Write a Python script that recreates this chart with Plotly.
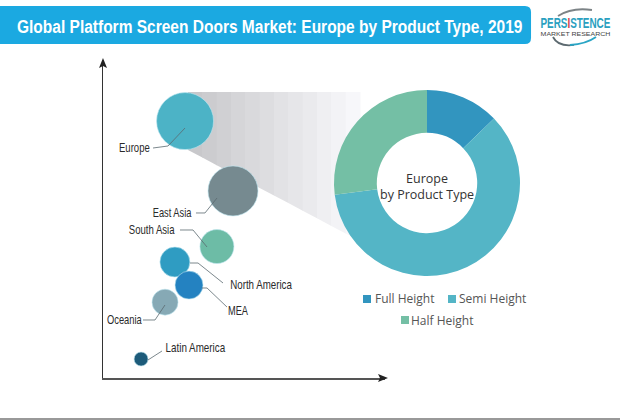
import json
import plotly.graph_objects as go

W, H = 620, 420
LABEL_FONT = "Liberation Sans, Arial, sans-serif"
SANS = "Open Sans, sans-serif"

regions = ["Europe", "East Asia", "South Asia", "North America", "MEA", "Oceania", "Latin America"]
region_x = [29.1, 46.1, 40.4, 25.5, 30.5, 22.0, 13.5]
region_y = [81.3, 59.2, 41.6, 36.7, 29.4, 24.0, 6.0]
region_size = [57, 50, 34, 30, 28, 26, 14]
region_colors = ["#4cb3c6", "#768a90", "#6dbca6", "#2f9cc2", "#2482c1", "#86a9b5", "#1d5b7a"]

product_types = ["Full Height", "Semi Height", "Half Height"]
product_share = [12.8, 60.2, 27.0]
product_colors = ["#3295bf", "#54b5c6", "#74bfa5"]

title_text = "Global Platform Screen Doors Market: Europe by Product Type, 2019"
logo_main = "PERSISTENCE"
logo_sub = "MARKET RESEARCH"


def px(x):
    return x / W


def py(y):
    return 1 - y / H


def path(points, close=False):
    s = "M " + " L ".join(f"{px(x):.4f},{py(y):.4f}" for x, y in points)
    return s + (" Z" if close else "")


def curve(a, ctrl, b):
    return (f"M {px(a[0]):.4f},{py(a[1]):.4f} Q {px(ctrl[0]):.4f},{py(ctrl[1]):.4f} "
            f"{px(b[0]):.4f},{py(b[1]):.4f}")


shapes = []


def add_shape(d, fill=None, line=None, width=0, layer="below"):
    shapes.append(dict(type="path", xref="paper", yref="paper", path=d, layer=layer,
                       fillcolor=fill or "rgba(0,0,0,0)",
                       line=dict(color=line or "rgba(0,0,0,0)", width=width)))


# header bar
r = 6
bar_top, bar_bot, bar_right = 6, 44, 531
add_shape(
    f"M 0,{py(bar_top):.4f} L {px(bar_right - r):.4f},{py(bar_top):.4f} "
    f"Q {px(bar_right):.4f},{py(bar_top):.4f} {px(bar_right):.4f},{py(bar_top + r):.4f} "
    f"L {px(bar_right):.4f},{py(bar_bot - r):.4f} "
    f"Q {px(bar_right):.4f},{py(bar_bot):.4f} {px(bar_right - r):.4f},{py(bar_bot):.4f} "
    f"L 0,{py(bar_bot):.4f} Z",
    fill="#1ba9e1",
)

# bottom rule
add_shape(path([(0, 418), (620, 418), (620, 420), (0, 420)], True), fill="#999999")

# gradient wedge from the Europe bubble to the donut
x0, x1, steps = 188, 360, 12
for i in range(steps):
    a = x0 + (x1 - x0) * i / steps
    b = x0 + (x1 - x0) * (i + 1) / steps + 0.5
    grey = int(198 + 52 * (i + 0.5) / steps)
    add_shape(path([(a, 92), (b, 92), (b, 151 + (b - 190) * 0.53), (a, 151 + (a - 190) * 0.53)], True),
              fill=f"rgb({grey},{grey},{min(255, grey + 3)})")

# axis arrow heads
add_shape(path([(103, 58), (99, 68), (103, 66), (107, 68)], True), fill="#222222", layer="above")
add_shape(path([(388, 378), (378, 374), (380, 378), (378, 382)], True), fill="#222222", layer="above")

# leader lines
leaders = [
    [(185, 128), (168, 146), (153, 148)],
    [(217, 198), (205, 213), (196, 213)],
    [(180, 230), (193, 230), (207, 247)],
    [(190, 263), (198, 263), (223, 283)],
    [(202, 288), (207, 288), (227, 307)],
    [(143, 320), (155, 320), (165, 305)],
    [(148, 360), (162, 351)],
]
for pts in leaders:
    add_shape(path(pts), line="#5a6a70", width=0.8, layer="above")

# legend swatches
swatches = [(363, 295), (448, 295), (401, 316)]
for (sx, sy), c in zip(swatches, product_colors):
    add_shape(path([(sx, sy), (sx + 8, sy), (sx + 8, sy + 8), (sx, sy + 8)], True), fill=c)

# logo arcs
add_shape(curve((558, 16), (572, 7), (592, 10)), line="#7c8386", width=1.8)
add_shape(curve((553, 37), (558, 47), (574, 45)), line="#5d6a70", width=1.8)
add_shape(curve((570, 45), (586, 44), (596, 37)), line="#2aa5c5", width=1.8)

fig = go.Figure()

fig.add_trace(go.Scatter(
    x=region_x, y=region_y, mode="markers", name="Regions", text=regions, hoverinfo="text",
    cliponaxis=False, showlegend=False,
    marker=dict(size=region_size, sizemode="diameter", color=region_colors, opacity=1,
                line=dict(color="rgba(190,230,240,0.6)", width=1)),
))

fig.add_trace(go.Pie(
    labels=product_types, values=product_share, hole=0.54, sort=False, direction="clockwise",
    rotation=0, textinfo="none", showlegend=False,
    marker=dict(colors=product_colors, line=dict(width=0)),
    domain=dict(x=[px(334), px(520)], y=[py(276.5), py(89.5)]),
))

# condensed text: target widths, applied to the rendered text below
fit = {title_text: 506, regions[0]: 31, regions[1]: 39, regions[2]: 46, regions[3]: 62,
       regions[4]: 20, regions[5]: 35, regions[6]: 60, logo_main: 70, logo_sub: 70}


def text(s, x, y, size=12, color="#2a2a2a", family=LABEL_FONT):
    return dict(text=s, x=px(x), y=py(y), xref="paper", yref="paper", showarrow=False,
                xanchor="center", yanchor="middle", font=dict(size=size, color=color, family=family))


annotations = [
    text(f"<b>{title_text}</b>", 269, 26, size=19, color="#ffffff"),
    text(regions[0], 134.5, 148),
    text(regions[1], 172.5, 213),
    text(regions[2], 152, 230),
    text(regions[3], 261, 285),
    text(regions[4], 238, 311),
    text(regions[5], 124.5, 320),
    text(regions[6], 195, 348),
    text("Europe<br>by Product Type", 427, 186, size=12.5, color="#333333", family=SANS),
    text(product_types[0], 404.5, 298, size=12, color="#555555", family=SANS),
    text(product_types[1], 492, 298, size=12, color="#555555", family=SANS),
    text(product_types[2], 442, 320, size=12, color="#555555", family=SANS),
    text("<b>PERS<span style='color:#d8434a'>I</span>STENCE</b>", 575.5, 22.5, size=14, color="#2aa0c0"),
    text(logo_sub, 575.5, 34, size=5.5, color="#444444"),
]

axis = dict(range=[0, 100], showgrid=False, zeroline=False, showticklabels=False, ticks="",
            showline=True, fixedrange=True)

fig.update_layout(
    width=W, height=H, autosize=False, margin=dict(l=0, r=0, t=0, b=0),
    paper_bgcolor="#ffffff", plot_bgcolor="#ffffff", showlegend=False,
    xaxis=dict(axis, domain=[px(103), px(385)], linecolor="#555555", linewidth=1.5),
    yaxis=dict(axis, domain=[py(378), py(62)], linecolor="#333333", linewidth=1.2),
    shapes=shapes, annotations=annotations,
)

post = """
document.body.style.margin = '0';
var fit = %s;
document.querySelectorAll('text.annotation-text').forEach(function (t) {
  var w = fit[t.textContent];
  if (w && t.style.fontFamily.indexOf('Liberation') >= 0) {
    var b = t.getBBox(), c = b.x + b.width / 2;
    t.setAttribute('transform', 'translate(' + c + ',0) scale(' + (w / b.width) + ',1) translate(' + (-c) + ',0)');
  }
});
""" % json.dumps(fit)

fig.write_html("out.html", config=dict(displayModeBar=False), post_script=post)
